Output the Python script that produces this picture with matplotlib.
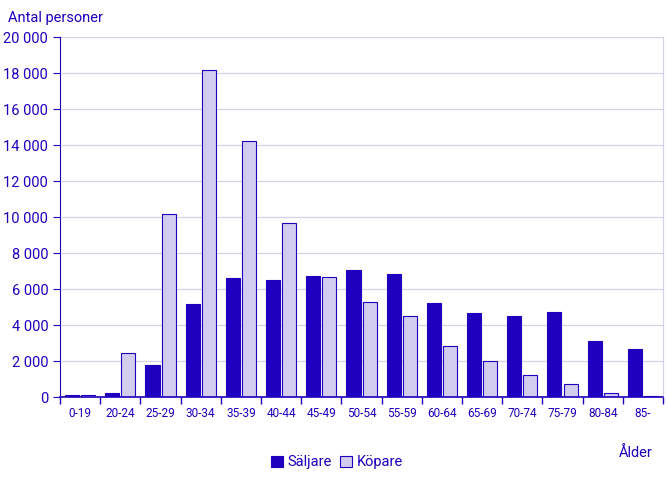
import numpy as np
import matplotlib
matplotlib.use("Agg")
import matplotlib.pyplot as plt
from matplotlib.ticker import FuncFormatter, FixedLocator, NullFormatter

# Data
age_groups = ["0-19", "20-24", "25-29", "30-34", "35-39", "40-44", "45-49",
              "50-54", "55-59", "60-64", "65-69", "70-74", "75-79", "80-84", "85-"]
saljare = [90, 200, 1800, 5150, 6600, 6500, 6750, 7050, 6850, 5200,
           4650, 4500, 4700, 3100, 2650]
kopare = [90, 2450, 10150, 18200, 14250, 9700, 6650, 5300, 4500, 2850,
          2000, 1200, 700, 250, 60]

DARK = "#1E00BE"
LIGHT = "#D2CDEF"
GRID = "#D4D2E8"

plt.rcParams["font.family"] = ["Roboto", "DejaVu Sans"]

fig = plt.figure(figsize=(6.67, 4.83), dpi=100)
ax = fig.add_axes([0.09, 0.178, 0.904, 0.745])

x = np.arange(len(age_groups))
w = 0.35
ax.bar(x - 0.2, saljare, w, color=DARK, edgecolor=DARK, linewidth=0.8,
       label="Säljare", zorder=2)
ax.bar(x + 0.2, kopare, w, color=LIGHT, edgecolor=DARK, linewidth=0.8,
       label="Köpare", zorder=2)

ax.set_xlim(-0.5, len(age_groups) - 0.5)
ax.set_ylim(0, 20000)
ax.set_yticks(np.arange(0, 20001, 2000))
ax.yaxis.set_major_formatter(FuncFormatter(lambda v, p: f"{int(v):,}".replace(",", " ")))
ax.grid(axis="y", color=GRID, linewidth=0.9, zorder=0)
ax.set_axisbelow(True)

# category labels centered, ticks at boundaries
ax.set_xticks(x)
ax.set_xticklabels(age_groups, fontsize=8.5, color=DARK)
ax.tick_params(axis="x", which="major", length=0, pad=7)
ax.xaxis.set_minor_locator(FixedLocator(np.arange(-0.5, len(age_groups), 1)))
ax.xaxis.set_minor_formatter(NullFormatter())
ax.tick_params(axis="x", which="minor", length=5, color=DARK, width=1)
ax.tick_params(axis="y", length=5, color=DARK, labelsize=10.5, labelcolor=DARK)

ax.spines["top"].set_visible(False)
ax.spines["right"].set_color(GRID)
ax.spines["left"].set_color(DARK)
ax.spines["bottom"].set_color(DARK)
ax.spines["bottom"].set_linewidth(1.2)
ax.spines["bottom"].set_zorder(3)

fig.text(0.012, 0.962, "Antal personer", fontsize=10.5, color=DARK, va="center")
fig.text(0.978, 0.062, "Ålder", fontsize=10.5, color=DARK, ha="right", va="center")

fig.legend(loc="center", bbox_to_anchor=(0.505, 0.043), ncol=2, frameon=False,
           fontsize=10.5, labelcolor=DARK, handlelength=0.8, handleheight=0.8,
           handletextpad=0.3, columnspacing=0.6)

fig.savefig("out.png", dpi=100)
